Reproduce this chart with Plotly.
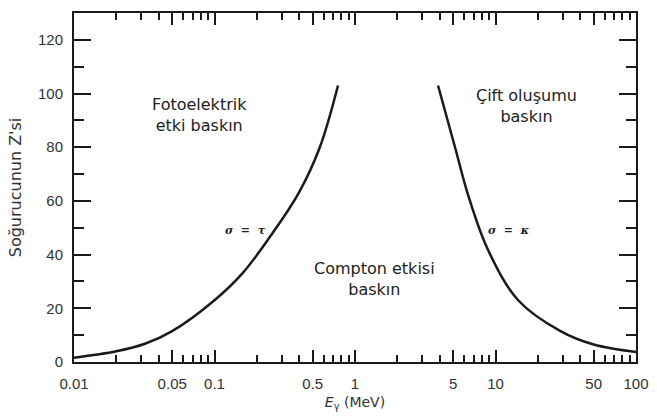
import plotly.graph_objects as go

# Photoelectric / Compton boundary (sigma = tau)
left_E = [0.01, 0.02, 0.032, 0.05, 0.1, 0.158, 0.251, 0.398, 0.562, 0.757]
left_Z = [1.6, 4, 6.8, 11.5, 23, 33, 47, 63, 80, 103]
# Compton / pair production boundary (sigma = kappa)
right_E = [3.9, 5.15, 6.4, 8.8, 14.5, 29, 50, 100]
right_Z = [103, 80, 62, 42, 23, 11.5, 6.5, 3.7]

x_major = [0.01, 0.05, 0.1, 0.5, 1, 5, 10, 50, 100]
x_major_text = ["0.01", "0.05", "0.1", "0.5", "1", "5", "10", "50", "100"]
x_minor = [m * 10 ** d for d in (-2, -1, 0, 1) for m in (2, 3, 4, 6, 7, 8, 9)]
y_major = [0, 20, 40, 60, 80, 100, 120]

FONT = "Liberation Sans, Arial, sans-serif"
TXT = "DejaVu Sans, sans-serif"
INK = "#1a1a1a"

fig = go.Figure()
fig.add_trace(go.Scatter(x=left_E, y=left_Z, mode="lines",
                         line=dict(color=INK, width=2.5, shape="spline"),
                         showlegend=False))
fig.add_trace(go.Scatter(x=right_E, y=right_Z, mode="lines",
                         line=dict(color=INK, width=2.5, shape="spline"),
                         showlegend=False))

fig.update_xaxes(type="log", range=[-2, 2], tickvals=x_major, ticktext=x_major_text,
                 ticks="inside", ticklen=12, tickwidth=1.5, tickcolor=INK,
                 showline=True, linecolor=INK, linewidth=2, mirror="ticks",
                 showgrid=False, zeroline=False, ticklabelstandoff=7, automargin=False,
                 minor=dict(tickvals=x_minor, ticks="inside", ticklen=7, tickwidth=1.5,
                            tickcolor=INK, showgrid=False),
                 tickfont=dict(family=FONT, size=15, color="#333"),
                 title=dict(text="<i>E</i><sub>γ</sub> (MeV)", standoff=6,
                            font=dict(family=TXT, size=14, color="#333")))
fig.update_yaxes(range=[0, 130], tickvals=y_major,
                 ticks="inside", ticklen=17, tickwidth=1.5, tickcolor=INK,
                 showline=True, linecolor=INK, linewidth=2, mirror="ticks",
                 showgrid=False, zeroline=False, ticklabelstandoff=6, automargin=False,
                 minor=dict(dtick=10, tick0=0, ticks="inside", ticklen=10, tickwidth=1.5,
                            tickcolor=INK, showgrid=False),
                 tickfont=dict(family=FONT, size=15, color="#333"),
                 title=dict(text="Soğurucunun Z'si", standoff=12,
                            font=dict(family=TXT, size=16, color="#333")))

ann_font = dict(family=TXT, size=16, color="#222")
fig.add_annotation(x=-1.11, y=92, xref="x", yref="y", text="Fotoelektrik<br>etki baskın",
                   showarrow=False, font=ann_font)
fig.add_annotation(x=1.224, y=95.5, xref="x", yref="y", text="Çift oluşumu<br>baskın",
                   showarrow=False, font=ann_font)
fig.add_annotation(x=0.142, y=31, xref="x", yref="y", text="Compton etkisi<br>baskın",
                   showarrow=False, font=ann_font)
fig.add_annotation(x=-0.776, y=49, xref="x", yref="y", text="<i><b>σ  =  τ</b></i>",
                   showarrow=False, font=dict(family="DejaVu Serif", size=11, color="#222"))
fig.add_annotation(x=1.09, y=49, xref="x", yref="y", text="<i><b>σ  =  κ</b></i>",
                   showarrow=False, font=dict(family="DejaVu Serif", size=11, color="#222"))

fig.update_layout(width=657, height=416, margin=dict(l=74, r=21, t=13, b=54),
                  plot_bgcolor="white", paper_bgcolor="white",
                  font=dict(family=FONT))

fig.write_html("out.html")
